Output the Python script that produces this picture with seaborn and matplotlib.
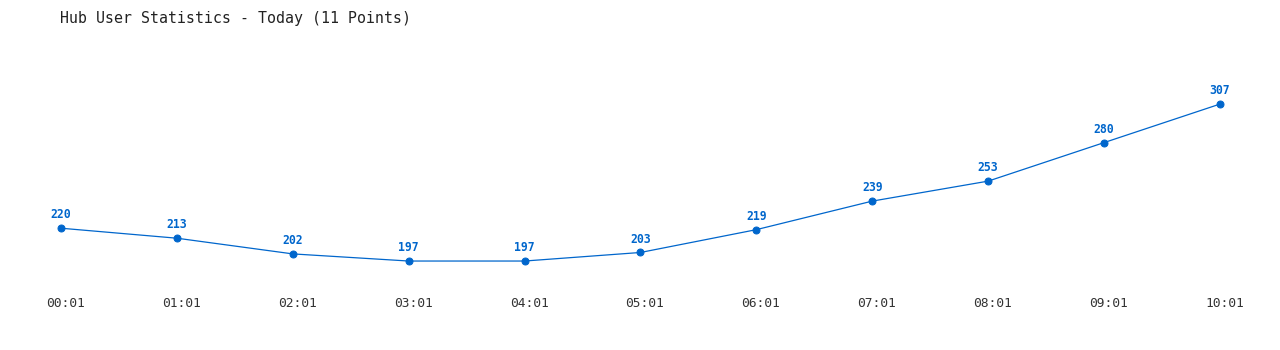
import matplotlib
matplotlib.use("Agg")
import matplotlib.pyplot as plt
import matplotlib.transforms as mtransforms
import seaborn as sns
import pandas as pd

times = ["00:01", "01:01", "02:01", "03:01", "04:01", "05:01", "06:01", "07:01", "08:01", "09:01", "10:01"]
users = [220, 213, 202, 197, 197, 203, 219, 239, 253, 280, 307]
title = "Hub User Statistics - Today (11 Points)"

sns.set_theme(style="white")
plt.rcParams['font.family'] = ['DejaVu Sans Mono', 'DejaVu Sans']

df = pd.DataFrame({"idx": range(len(times)), "users": users})

fig = plt.figure(figsize=(12.8, 3.5), dpi=100)
ax = fig.add_axes([0, 60/350, 1, 250/350])
color = "#0066cc"
sns.lineplot(data=df, x="idx", y="users", ax=ax, color=color, linewidth=0.9,
             marker="o", markersize=5, markeredgecolor=color, markerfacecolor=color)

for i, v in zip(df["idx"], df["users"]):
    ax.annotate(str(v), (i, v), xytext=(0, 5), textcoords="offset points",
                ha="center", va="bottom", fontsize=8.3, fontweight="bold", color=color)

ax.set_xlim(-0.5263, 10.518)
ax.set_ylim(176.7, 351.9)
ax.set_xticks(list(df["idx"]))
ax.set_xticklabels(times, fontsize=9.3, color="#333333")
ax.tick_params(axis="x", length=0, pad=5)
offset = mtransforms.ScaledTranslation(4.5/100, 0, fig.dpi_scale_trans)
for lbl in ax.get_xticklabels():
    lbl.set_transform(lbl.get_transform() + offset)
ax.set_yticks([])
ax.set_xlabel("")
ax.set_ylabel("")
for s in ax.spines.values():
    s.set_visible(False)

fig.text(60/1280, 1 - 18/350, title, fontsize=10.7, color="#222222", ha="left", va="center")

fig.savefig("out.png", dpi=100, facecolor="white")
